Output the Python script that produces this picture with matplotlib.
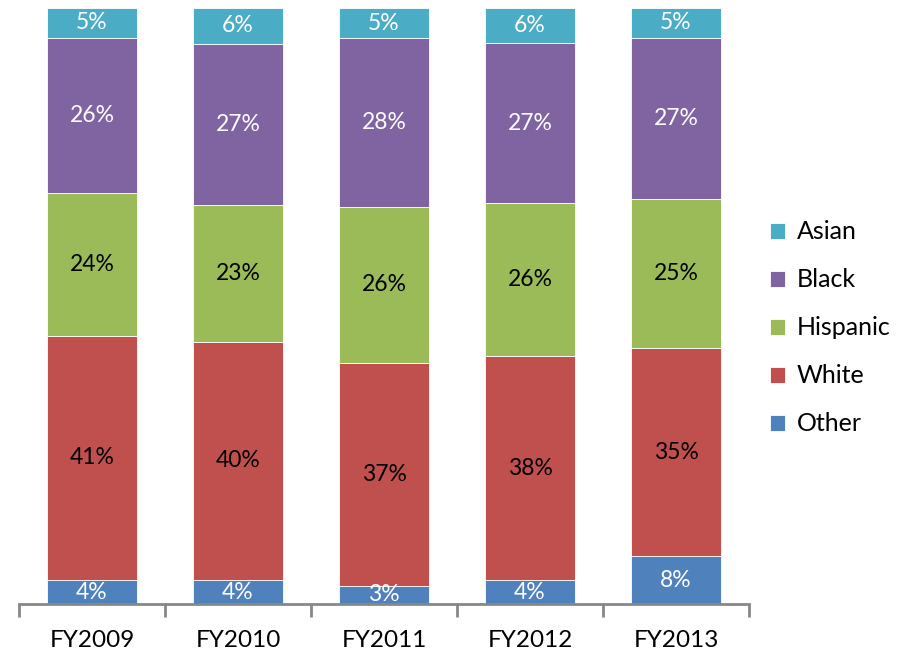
import numpy as np
import matplotlib
matplotlib.use('Agg')
import matplotlib.pyplot as plt

plt.rcParams['font.family'] = ['Lato', 'DejaVu Sans']

# ── Data ─────────────────────────────────────────────
years    = ['FY2009', 'FY2010', 'FY2011', 'FY2012', 'FY2013']
groups   = ['Other', 'White', 'Hispanic', 'Black', 'Asian']
other    = [4, 4, 3, 4, 8]
white    = [41, 40, 37, 38, 35]
hispanic = [24, 23, 26, 26, 25]
black    = [26, 27, 28, 27, 27]
asian    = [5, 6, 5, 6, 5]

colors      = ['#4f81bd', '#c0504d', '#9bbb59', '#8064a2', '#4bacc6']
text_colors = ['white', 'black', 'black', 'white', 'white']

series = np.array([other, white, hispanic, black, asian], dtype=float)
shares = series / series.sum(axis=0) * 100  # 100% stacked

fig = plt.figure(figsize=(9.09, 6.54), dpi=100)
ax = fig.add_axes([19 / 909, 50 / 654, 730 / 909, 596 / 654])

x = np.arange(len(years))
bottom = np.zeros(len(years))
handles = []
for i, g in enumerate(groups):
    h = ax.bar(x, shares[i], 0.62, bottom=bottom, color=colors[i],
               edgecolor='white', linewidth=0.6, label=g)
    handles.append(h)
    for j in range(len(years)):
        ax.text(x[j], bottom[j] + shares[i][j] / 2, f'{int(series[i][j])}%',
                ha='center', va='center', fontsize=16.5, color=text_colors[i])
    bottom += shares[i]

ax.set_xlim(-0.5, len(years) - 0.5)
ax.set_ylim(0, 100)
ax.set_yticks([])
for s in ['top', 'right', 'left']:
    ax.spines[s].set_visible(False)
ax.spines['bottom'].set_color('#878787')
ax.spines['bottom'].set_linewidth(2)

ax.set_xticks(x)
ax.set_xticklabels(years, fontsize=17.5)
ax.tick_params(axis='x', which='major', length=0, pad=19)
ax.set_xticks(np.arange(-0.5, len(years)), minor=True)
ax.tick_params(axis='x', which='minor', length=9, width=2, color='#878787')

fig.legend(handles[::-1], groups[::-1], loc='center left',
           bbox_to_anchor=(747 / 909, 1 - 328 / 654), frameon=False,
           fontsize=18, handlelength=0.6, handleheight=0.6,
           labelspacing=1.0, handletextpad=0.5)

plt.savefig('out.png', dpi=100)
plt.close()
